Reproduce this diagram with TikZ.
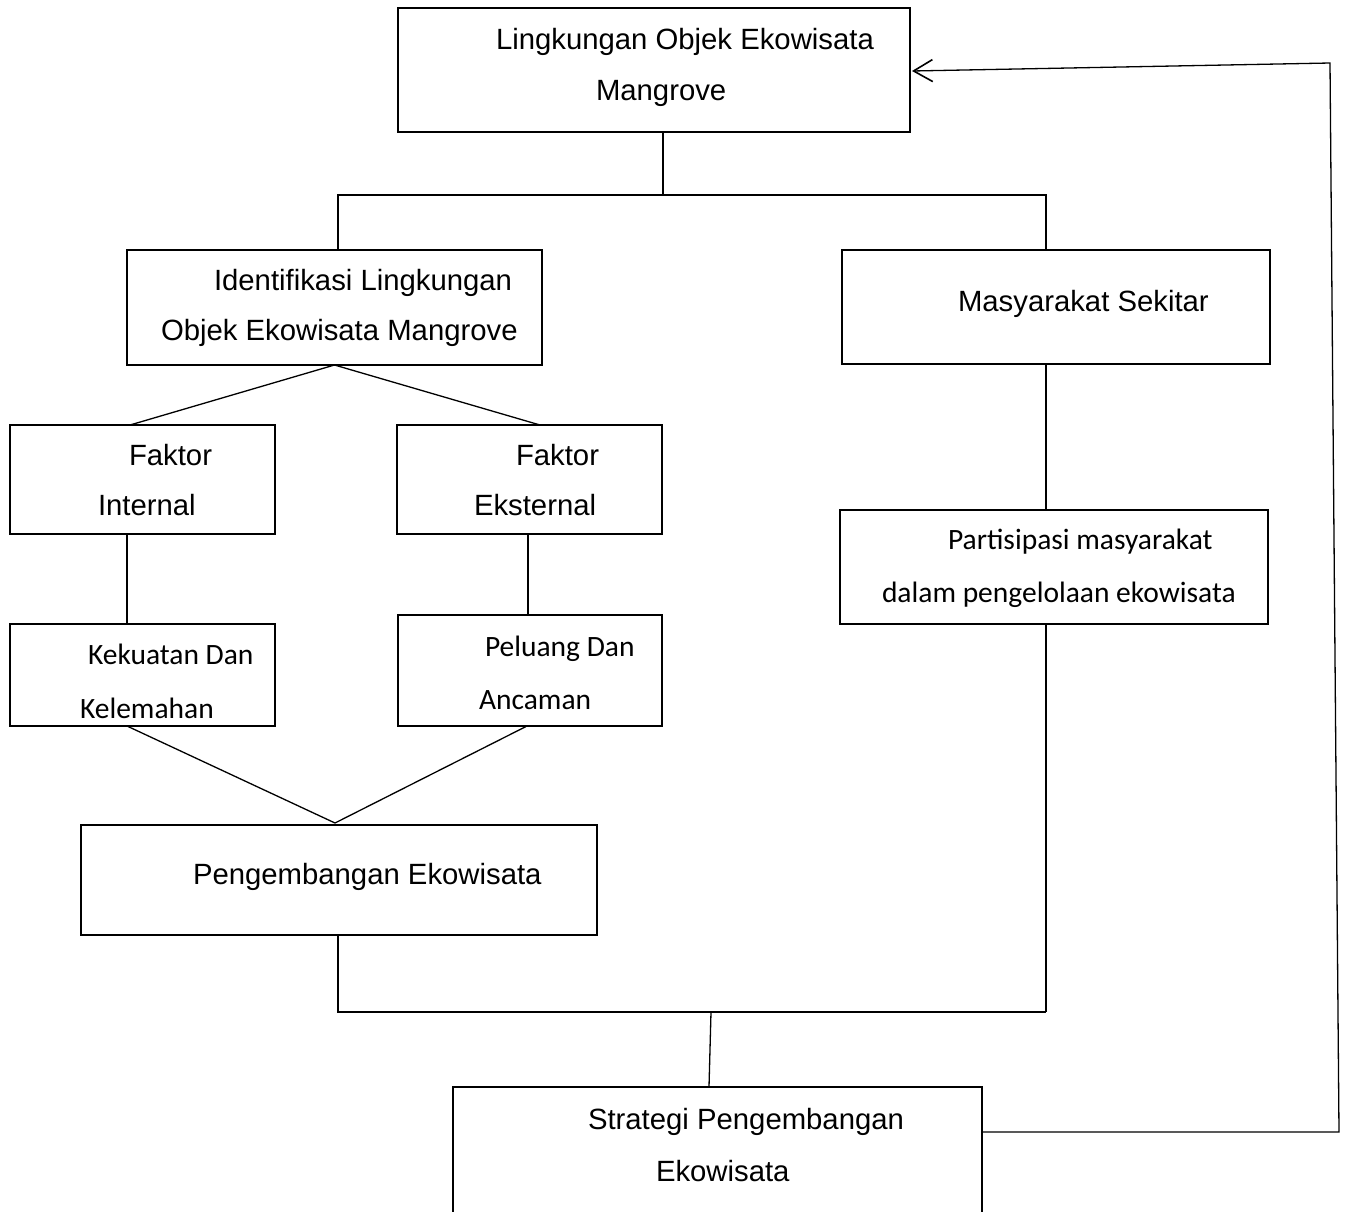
\documentclass[tikz,border=0pt]{standalone}
\usepackage{fontspec}
\setmainfont{Liberation Sans}
\newfontfamily\carlitofont{Carlito}
\usetikzlibrary{arrows.meta}
\tikzset{
  box/.style={draw, line width=2.8pt, inner sep=0pt, outer sep=0pt, anchor=north west},
  conn/.style={draw, line width=1.3pt},
  txt/.style={anchor=base west, inner sep=0pt, outer sep=0pt, font=\fontsize{29.3}{35}\selectfont},
  ctxt/.style={anchor=base west, inner sep=0pt, outer sep=0pt, font=\carlitofont\fontsize{29.5}{35}\selectfont},
}
\begin{document}
\begin{tikzpicture}[x=1pt,y=-1pt]
\useasboundingbox (0,0) rectangle (1347,1211);
\clip (0,0) rectangle (1347,1211);
\fill[white] (0,0) rectangle (1347,1211);

% boxes
\node[box, minimum width=512pt, minimum height=124pt] (top) at (398,8) {};
\node[box, minimum width=415pt, minimum height=115pt] (ident) at (127,250) {};
\node[box, minimum width=428pt, minimum height=114pt] (masy) at (842,250) {};
\node[box, minimum width=265pt, minimum height=109pt] (fin) at (10,425) {};
\node[box, minimum width=265pt, minimum height=109pt] (fek) at (397,425) {};
\node[box, minimum width=265pt, minimum height=102pt] (kek) at (10,624) {};
\node[box, minimum width=264pt, minimum height=111pt] (pel) at (398,615) {};
\node[box, minimum width=516pt, minimum height=110pt] (peng) at (81,825) {};
\node[box, minimum width=428pt, minimum height=114pt] (part) at (840,510) {};
\node[box, minimum width=529pt, minimum height=160pt] (strat) at (453,1087) {};

% texts
\node[txt] (t1a) at (496,49) {Lingkungan Objek Ekowisata};
\node[txt] (t1b) at (596,100) {Mangrove};
\node[txt] (t2a) at (214,290) {Identifikasi Lingkungan};
\node[txt] (t2b) at (161,340) {Objek Ekowisata Mangrove};
\node[txt] (t3) at (958,311) {Masyarakat Sekitar};
\node[txt] (t4a) at (129,465) {Faktor};
\node[txt] (t4b) at (98,515) {Internal};
\node[txt] (t5a) at (516,465) {Faktor};
\node[txt] (t5b) at (474,515) {Eksternal};
\node[ctxt] (t6a) at (88,664) {Kekuatan Dan};
\node[ctxt] (t6b) at (80,718) {Kelemahan};
\node[ctxt] (t7a) at (485,656) {Peluang Dan};
\node[ctxt] (t7b) at (479,709) {Ancaman};
\node[txt] (t8) at (193,884) {Pengembangan Ekowisata};
\node[ctxt] (t9a) at (948,549) {Partisipasi masyarakat};
\node[ctxt] (t9b) at (882,602) {dalam pengelolaan ekowisata};
\node[txt] (t10a) at (588,1129) {Strategi Pengembangan};
\node[txt] (t10b) at (656,1181) {Ekowisata};

% junction coordinates
\coordinate (j1) at (663,195);
\coordinate (jl) at (338,195);
\coordinate (jr) at (1046,195);
\coordinate (v) at (335,823);
\coordinate (b1) at (338,1012);
\coordinate (b2) at (1046,1012);
\coordinate (bm) at (711,1012);
\coordinate (sm) at (709,1087);
\coordinate (r1) at (1339,1132);
\coordinate (r2) at (1330,63);
\coordinate (ah) at (912,71);

% connectors
\draw[conn] (j1 |- top.south) -- (j1) -- (jl) -- (jl |- ident.north);
\draw[conn] (j1) -- (jr) -- (jr |- masy.north);
\draw[conn] (ident.south) -- ([xshift=120pt]fin.north west);
\draw[conn] (ident.south) -- ([xshift=143pt]fek.north west);
\draw[conn] ([xshift=117pt]fin.south west) -- ([xshift=117pt]kek.north west);
\draw[conn] ([xshift=131pt]fek.south west) -- ([xshift=130pt]pel.north west);
\draw[conn] ([xshift=117pt]kek.south west) -- (v);
\draw[conn] ([xshift=129pt]pel.south west) -- (v);
\draw[conn] (jr |- masy.south) -- (jr |- part.north);
\draw[conn] (jr |- part.south) -- (b2);
\draw[conn] (b1 |- peng.south) -- (b1) -- (b2);
\draw[conn] (bm) -- (sm);
\draw[conn, -{Straight Barb[length=19pt,width=22pt,line width=1.6pt]}] (strat.east |- r1) -- (r1) -- (r2) -- (ah);
\end{tikzpicture}
\end{document}
